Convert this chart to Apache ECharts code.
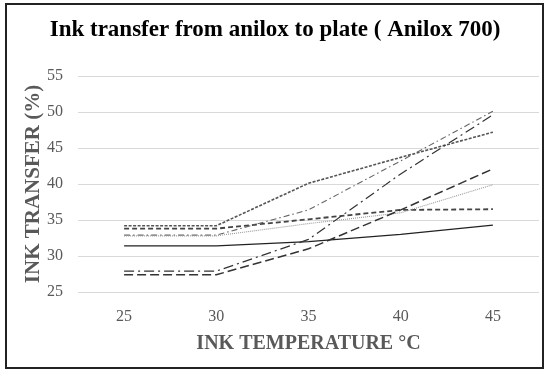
<!DOCTYPE html>
<html>
<head>
<meta charset="utf-8">
<script src="https://cdn.jsdelivr.net/npm/echarts@6/dist/echarts.min.js"></script>
<style>
html,body{margin:0;padding:0;background:#fff;}
#chart{width:548px;height:372px;}
</style>
</head>
<body>
<div id="chart"></div>
<script>
var categories = ['25', '30', '35', '40', '45'];
var yTicks = [25, 30, 35, 40, 45, 50, 55];
var seriesSolid = [31.4, 31.4, 32.0, 33.0, 34.3];
var seriesA = [34.2, 34.2, 40.1, 43.7, 47.2];
var seriesB = [33.8, 33.8, 35.1, 36.4, 36.5];
var seriesC = [32.9, 32.9, 36.4, 43.2, 50.1];
var seriesD = [32.8, 32.8, 34.5, 36.0, 39.9];
var seriesE = [27.9, 27.9, 32.3, 41.4, 49.6];
var seriesF = [27.4, 27.4, 31.0, 36.4, 42.1];

var serif = '"Liberation Serif", "Times New Roman", serif';
function mk(name, data, color, width, type) {
  return {
    name: name, type: 'line', data: data, symbol: 'none', silent: true,
    lineStyle: { color: color, width: width, type: type }
  };
}
var chart = echarts.init(document.getElementById('chart'));
chart.setOption({
  animation: false,
  backgroundColor: '#fff',
  title: {
    text: 'Ink transfer from anilox to plate ( Anilox 700)',
    left: 270, textAlign: 'center', top: 14,
    textStyle: { fontFamily: serif, fontWeight: 'bold', fontSize: 23, color: '#000' }
  },
  graphic: [{
    type: 'rect', shape: { x: 6, y: 4, width: 537, height: 364 },
    style: { fill: 'none', stroke: '#222', lineWidth: 2 }, silent: true
  }],
  grid: { left: 78, right: 9, top: 76, bottom: 80 },
  xAxis: {
    type: 'category', data: categories, boundaryGap: true,
    axisLine: { show: false }, axisTick: { show: false },
    axisLabel: { fontFamily: serif, fontSize: 16, color: '#595959', margin: 17 },
    name: 'INK TEMPERATURE °C', nameLocation: 'middle', nameGap: 42,
    nameMoveOverlap: false,
    nameTextStyle: { fontFamily: serif, fontWeight: 'bold', fontSize: 20, color: '#595959' }
  },
  yAxis: {
    type: 'value', min: yTicks[0], max: yTicks[yTicks.length - 1], interval: 5,
    axisLine: { show: false }, axisTick: { show: false },
    splitLine: { lineStyle: { color: '#d9d9d9', width: 1 } },
    axisLabel: { fontFamily: serif, fontSize: 16, color: '#595959', margin: 15 },
    name: 'INK TRANSFER (%)', nameLocation: 'middle', nameGap: 34,
    nameMoveOverlap: false,
    nameTextStyle: { fontFamily: serif, fontWeight: 'bold', fontSize: 21, color: '#595959' }
  },
  series: [
    mk('solid', seriesSolid, '#222', 1.2, 'solid'),
    mk('A', seriesA, '#555', 1.6, [3, 1.5]),
    mk('B', seriesB, '#444', 1.8, [5, 3]),
    mk('C', seriesC, '#666', 1.1, [6, 3, 1.5, 3]),
    mk('D', seriesD, '#999', 1.1, [1, 1]),
    mk('E', seriesE, '#333', 1.2, [10, 4, 2, 4]),
    mk('F', seriesF, '#333', 1.5, [9, 4])
  ]
});
</script>
</body>
</html>
